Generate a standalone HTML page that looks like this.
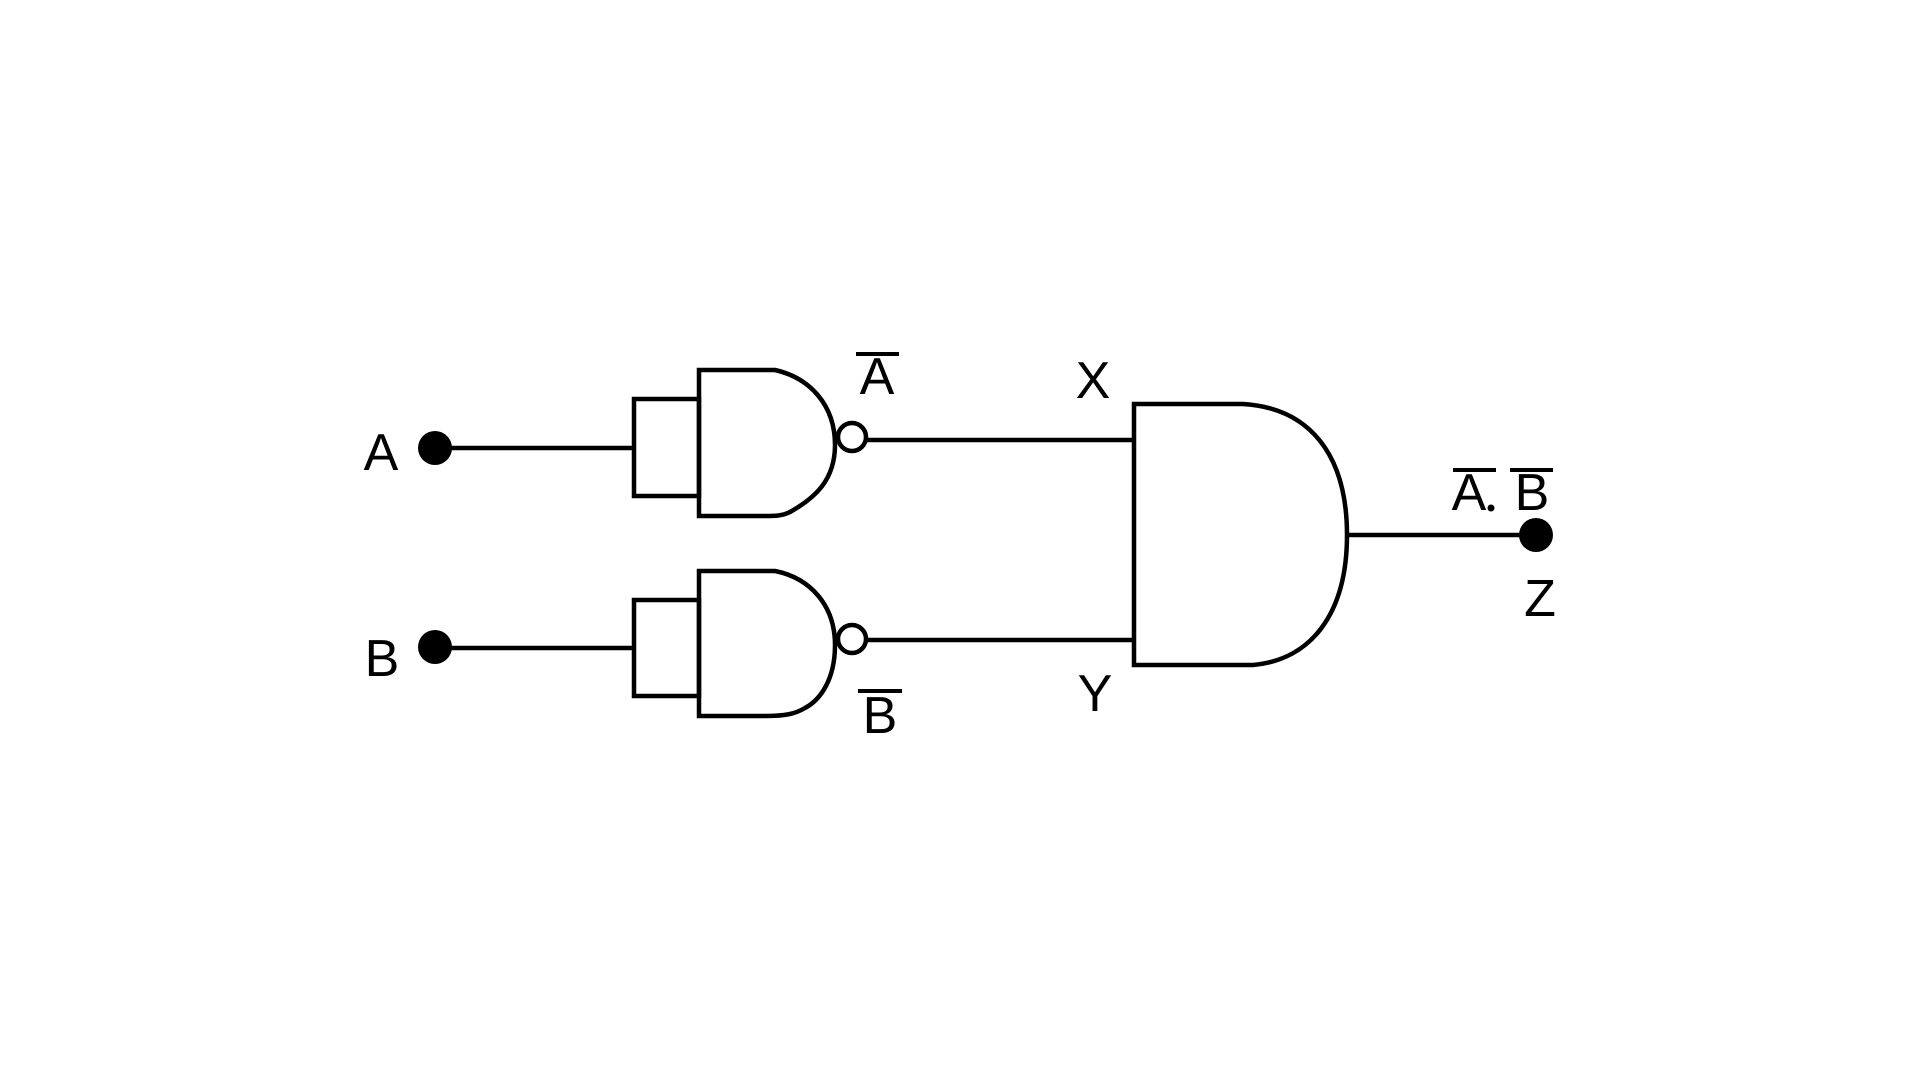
<!DOCTYPE html>
<html><head><style>html,body{margin:0;padding:0;background:#fff;}svg{display:block}</style></head>
<body>
<svg width="1920" height="1080" viewBox="0 0 1920 1080" xmlns="http://www.w3.org/2000/svg">
<g fill="none" stroke="#000" stroke-width="4.5">
<line x1="435" y1="448" x2="634" y2="448"/>
<rect x="634" y="399" width="65" height="97"/>
<path d="M699 370 H775 C810 378 835 405 835 445 C835 480 815 498 790 512 C782 516 775 516 765 516 H699 Z"/>
<circle cx="852" cy="437" r="14"/>
<line x1="866" y1="440" x2="1134" y2="440"/>
<line x1="435" y1="648" x2="634" y2="648"/>
<rect x="634" y="600" width="65" height="96"/>
<path d="M699 571 H775 C810 578 835 605 835 645 C835 680 820 700 805 708 C795 714 785 716 765 716 H699 Z"/>
<circle cx="852" cy="639" r="14"/>
<line x1="866" y1="640" x2="1134" y2="640"/>
<path d="M1134 404 H1243 C1310 408 1347 455 1347 535 C1347 615 1310 660 1253 665 H1134 Z"/>
<line x1="1347" y1="535" x2="1535" y2="535"/>
</g>
<g fill="#000">
<circle cx="435" cy="448" r="17"/>
<circle cx="435" cy="647" r="17"/>
<circle cx="1536" cy="535" r="17"/>
<rect x="856" y="352" width="43" height="4"/>
<rect x="858" y="689" width="44" height="4"/>
<rect x="1453" y="468" width="43" height="4"/>
<rect x="1510" y="468" width="43" height="4"/>
<circle cx="1491" cy="508" r="3.5"/>
</g>
<g font-family="'Liberation Sans',sans-serif" font-size="52" text-anchor="middle" fill="#000" dominant-baseline="central">
<text x="381" y="453">A</text>
<text x="382" y="659">B</text>
<text x="877" y="377">A</text>
<text x="880" y="716">B</text>
<text x="1093" y="381">X</text>
<text x="1095" y="694">Y</text>
<text x="1469" y="493">A</text>
<text x="1532" y="493">B</text>
<text x="1540" y="599">Z</text>
</g>
</svg>
</body></html>
